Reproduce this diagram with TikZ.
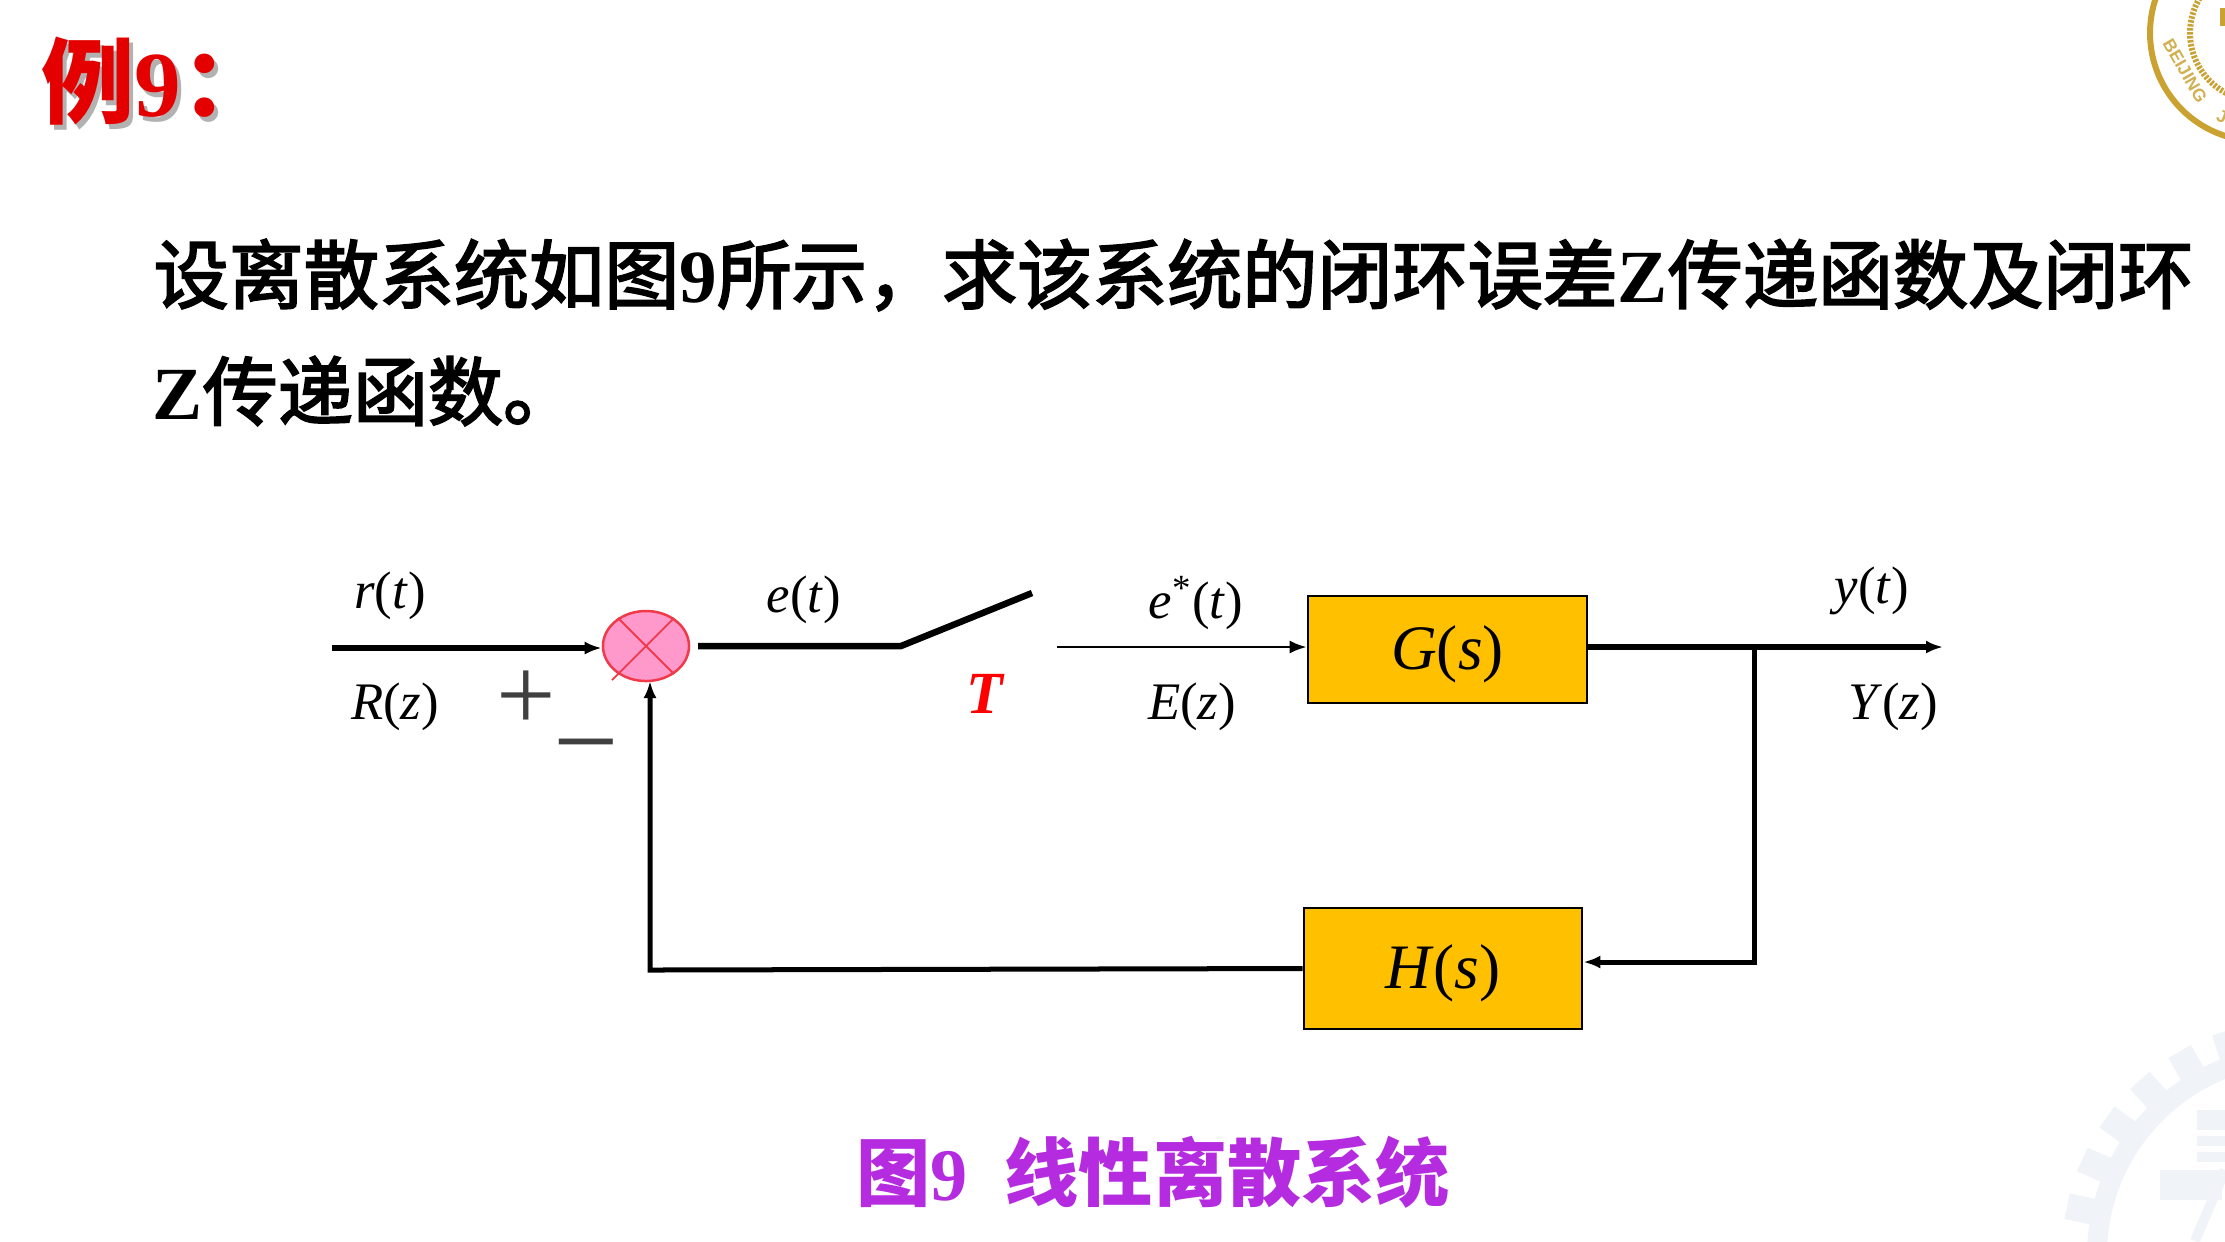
\documentclass[tikz,border=0pt]{standalone}
\usepackage{fontspec}
\setmainfont{Liberation Serif}
\setsansfont{Liberation Sans}
\newfontfamily\cjkfont{Noto Sans CJK SC}
\newfontfamily\cjkbody[FakeBold=2.6]{Noto Sans CJK SC}
\usepackage{xcolor}
\usetikzlibrary{shapes.geometric,arrows.meta}
\definecolor{sealgold}{HTML}{C9A232}
\definecolor{gearwash}{HTML}{F0F3F7}
\definecolor{blockamber}{HTML}{FFC000}
\definecolor{sumpink}{HTML}{FF99CC}
\definecolor{sumred}{HTML}{F03A4A}
\definecolor{capviolet}{HTML}{B52BE0}
\newcommand{\sig}[2]{\textit{#1}(\textit{#2})}
\newcommand{\zh}[1]{{\mdseries\cjkbody #1}}
\tikzset{
  block/.style={draw=black,line width=0.025cm,fill=blockamber,inner sep=0pt,text height=0.5cm,text depth=0.094cm,font=\fontsize{18}{20}\selectfont},
  siglabel/.style={inner sep=0pt,font=\fontsize{15}{17}\selectfont},
  bodytext/.style={inner sep=0pt,anchor=west,font=\fontsize{21.35}{24}\selectfont\bfseries},
  heavy/.style={line width=0.065cm},
  medium/.style={line width=0.05cm},
  light/.style={line width=0.027cm},
  tip/.style={-{Latex[length=0.17cm,width=0.13cm]}}
}
\begin{document}
\begin{tikzpicture}[x=0.01cm,y=-0.01cm]
  \useasboundingbox (0,0) rectangle (2225,1241);
  \clip (0,0) rectangle (2225,1241);
  % corner marks behind everything
  \draw[sealgold,line width=0.06cm] (2258,33) circle (108);
  \draw[sealgold,line width=0.06cm,dash pattern=on 0.025cm off 0.015cm] (2258,33) circle (68);
  \fill[sealgold] (2220,8) rectangle (2225,26);
  \node[rotate=-60,inner sep=0pt,text=sealgold!85,font=\sffamily\bfseries\fontsize{5}{6}\selectfont] (sealcity) at (2185,71) {BEIJING};
  \node[rotate=-20,inner sep=0pt,text=sealgold!85,font=\sffamily\bfseries\fontsize{5}{6}\selectfont] (sealj) at (2222,117) {J};
  \draw[gearwash,line width=0.2cm] (2297,1255) circle (200);
  \foreach \a in {96,108,...,180}
    \fill[gearwash,rotate around={\a:(2297,1255)}] (2297+205,1255-13) rectangle (2297+235,1255+13);
  \fill[gearwash] (2197,1110) rectangle (2225,1130);
  \fill[gearwash] (2197,1136) rectangle (2225,1146);
  \fill[gearwash] (2197,1152) rectangle (2225,1162);
  \fill[gearwash] (2160,1170) rectangle (2222,1200);
  \draw[gearwash,line width=0.1cm] (2225,1170) -- (2195,1241);
  % heading and problem text
  \node[inner sep=0pt,anchor=west,text=black!30,font=\fontsize{26.5}{28}\selectfont\bfseries\cjkfont] (headshadow) at (45,86) {例\textrm{9}：};
  \node[inner sep=0pt,anchor=west,text=red!90!black,font=\fontsize{26.5}{28}\selectfont\bfseries\cjkfont] (head) at (41,81) {例\textrm{9}：};
  \node[bodytext] (lineone) at (153,275) {\zh{设离散系统如图}9\zh{所示，求该系统的闭环误差}Z\zh{传递函数及闭环}};
  \node[bodytext] (linetwo) at (152,391) {Z\zh{传递函数。}};
  % blocks and junction
  \node[draw=sumred,line width=0.025cm,fill=sumpink,ellipse,minimum width=0.86cm,minimum height=0.70cm,inner sep=0pt] (sum) at (646,646) {};
  \draw[sumred,line width=0.018cm] (sum.45) -- (sum.225) -- ++(-6,6);
  \draw[sumred,line width=0.018cm] (sum.135) -- (sum.315);
  \node[block,minimum width=2.79cm,minimum height=1.07cm] (plant) at (1447.5,649.5) {\sig{G}{s}};
  \node[block,minimum width=2.78cm,minimum height=1.21cm] (feedback) at (1443,968.5) {\sig{H}{s}};
  % signal path
  \coordinate (rstart) at (332,648);
  \coordinate (eout) at (698,646);
  \coordinate (swpivot) at (901,646);
  \coordinate (swtip) at (1032,593);
  \coordinate (swout) at (1057,647);
  \coordinate (yend) at (1943,647);
  \coordinate (ytap) at (1754,647);
  \coordinate (tapcorner) at (1754,962);
  \draw[tip,heavy] (rstart) -- (sum.west |- rstart);
  \draw[heavy] (eout) -- (swpivot) -- (swtip);
  \draw[tip,light] (swout) -- (plant.west |- swout);
  \draw[tip,heavy] (plant.east |- yend) -- (yend);
  \draw[tip,medium] (ytap) -- (tapcorner) -- (feedback.east |- tapcorner);
  \draw[tip,medium] (feedback.west) -- (650,970) -- (650,681);
  % signal names
  \node[siglabel] (rt) at (390,596) {\sig{r}{t}};
  \node[siglabel] (rz) at (395,707) {\sig{R}{z}};
  \node[siglabel] (et) at (804,600) {\sig{e}{t}};
  \node[siglabel] (est) at (1196,603) {\textit{e}\textsuperscript{*}(\textit{t})};
  \node[siglabel] (ez) at (1192,707) {\sig{E}{z}};
  \node[siglabel] (yt) at (1872,591) {\sig{y}{t}};
  \node[siglabel] (yz) at (1893,707) {\sig{Y}{z}};
  \node[inner sep=0pt,text=red,font=\fontsize{17}{19}\selectfont\bfseries\itshape] (period) at (985,694) {T};
  \node[inner sep=0pt,text=black!75,font=\fontsize{30}{32}\selectfont] (plus) at (526,701) {+};
  \node[inner sep=0pt,text=black!75,font=\fontsize{33}{35}\selectfont] (minus) at (586,760) {−};
  % caption
  \node[inner sep=0pt,text=capviolet,font=\fontsize{21.1}{23}\selectfont\bfseries] (caption) at (1153,1172) {{\cjkfont 图}9\hspace{0.5em}{\cjkfont 线性离散系统}};
\end{tikzpicture}
\end{document}
